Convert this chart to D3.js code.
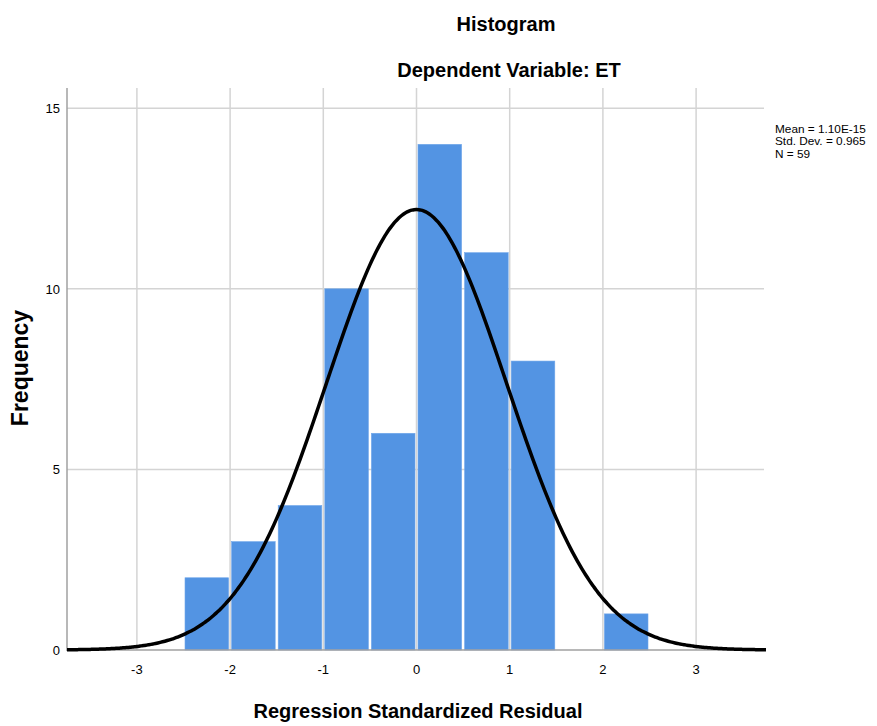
<!DOCTYPE html>
<html>
<head>
<meta charset="utf-8">
<script src="https://cdn.jsdelivr.net/npm/d3@7"></script>
<style>
  body { margin: 0; background: #fff; }
  text { font-family: "Liberation Sans", Arial, sans-serif; fill: #000; }
  .title { font-size: 20px; font-weight: bold; }
  .x-title { font-size: 20px; font-weight: bold; }
  .y-title { font-size: 23px; font-weight: bold; }
  .tick-label { font-size: 13px; }
  .stats { font-size: 11.8px; }
</style>
</head>
<body>
<svg id="chart" width="877" height="726"></svg>
<script>
// histogram bins (lower edges, width 0.5) and counts
const binStarts = [-2.5, -2.0, -1.5, -1.0, -0.5, 0.0, 0.5, 1.0, 1.5, 2.0];
const binCounts = [2, 3, 4, 10, 6, 14, 11, 8, 0, 1];
const binWidth = 0.5;

const xTicks = [-3, -2, -1, 0, 1, 2, 3];
const yTicks = [0, 5, 10, 15];

// summary stats shown on the right
const mean = 1.10e-15;
const stdDev = 0.965;
const n = 59;
const statLines = ["Mean = 1.10E-15", "Std. Dev. = 0.965", "N = 59"];

const svg = d3.select("#chart");

const plot = {left: 67, right: 766, top: 88, bottom: 650};

let x = d3.scaleLinear()
    .domain([-3.75, 3.75])
    .range([plot.left, plot.right]);

let y = d3.scaleLinear()
    .domain([0, 15.56])
    .range([plot.bottom, plot.top]);

// gridlines
svg.append("g").selectAll("line").data(xTicks).enter().append("line")
    .attr("x1", d => x(d)).attr("x2", d => x(d))
    .attr("y1", plot.top).attr("y2", plot.bottom)
    .attr("stroke", "#d4d4d4").attr("stroke-width", 1.5);

svg.append("g").selectAll("line").data(yTicks.filter(d => d > 0)).enter().append("line")
    .attr("x1", plot.left).attr("x2", plot.right - 2)
    .attr("y1", d => y(d)).attr("y2", d => y(d))
    .attr("stroke", "#d4d4d4").attr("stroke-width", 1.5);

// bars
let bars = svg.append("g").selectAll("rect").data(binStarts);
bars.enter().append("rect")
    .attr("x", d => x(d) + 1.5)
    .attr("width", d => x(d + binWidth) - x(d) - 3)
    .attr("y", (d, i) => y(binCounts[i]))
    .attr("height", (d, i) => y(0) - y(binCounts[i]))
    .attr("fill", "#5394e3")
    .attr("stroke", "#6fa6ea")
    .attr("stroke-width", 0.6);

// axis lines
svg.append("line")
    .attr("x1", plot.left).attr("x2", plot.left)
    .attr("y1", plot.top).attr("y2", plot.bottom + 1)
    .attr("stroke", "#a0a0a0").attr("stroke-width", 1.5);
svg.append("line")
    .attr("x1", plot.left).attr("x2", plot.right)
    .attr("y1", plot.bottom).attr("y2", plot.bottom)
    .attr("stroke", "#a0a0a0").attr("stroke-width", 1.5);

// normal curve from the reported mean / sd / N
let curvePts = d3.range(0, 301).map(i => {
    let xv = -3.75 + i * 7.5 / 300;
    let z = (xv - mean) / stdDev;
    let yv = n * binWidth * Math.exp(-0.5 * z * z) / (stdDev * Math.sqrt(2 * Math.PI));
    return [xv, yv];
});
let line = d3.line().x(d => x(d[0])).y(d => y(d[1])).curve(d3.curveBasis);
svg.append("path")
    .attr("d", line(curvePts))
    .attr("fill", "none")
    .attr("stroke", "#000")
    .attr("stroke-width", 3.5);

// tick labels
svg.append("g").selectAll("text").data(xTicks).enter().append("text")
    .attr("class", "tick-label")
    .attr("x", d => x(d))
    .attr("y", 674)
    .attr("text-anchor", "middle")
    .text(d => d);

svg.append("g").selectAll("text").data(yTicks).enter().append("text")
    .attr("class", "tick-label")
    .attr("x", 60)
    .attr("y", d => y(d) + 5)
    .attr("text-anchor", "end")
    .text(d => d);

// titles
svg.append("text").attr("class", "title")
    .attr("x", 506).attr("y", 31)
    .attr("text-anchor", "middle")
    .text("Histogram");
svg.append("text").attr("class", "title")
    .attr("x", 509).attr("y", 77)
    .attr("text-anchor", "middle")
    .text("Dependent Variable: ET");

svg.append("text").attr("class", "x-title")
    .attr("x", 418).attr("y", 718)
    .attr("text-anchor", "middle")
    .text("Regression Standardized Residual");

svg.append("text").attr("class", "y-title")
    .attr("transform", "translate(28,368) rotate(-90)")
    .attr("text-anchor", "middle")
    .text("Frequency");

// stats box
svg.append("g").selectAll("text").data(statLines).enter().append("text")
    .attr("class", "stats")
    .attr("x", 775)
    .attr("y", (d, i) => 133 + i * 12.4)
    .text(d => d);
</script>
</body>
</html>
